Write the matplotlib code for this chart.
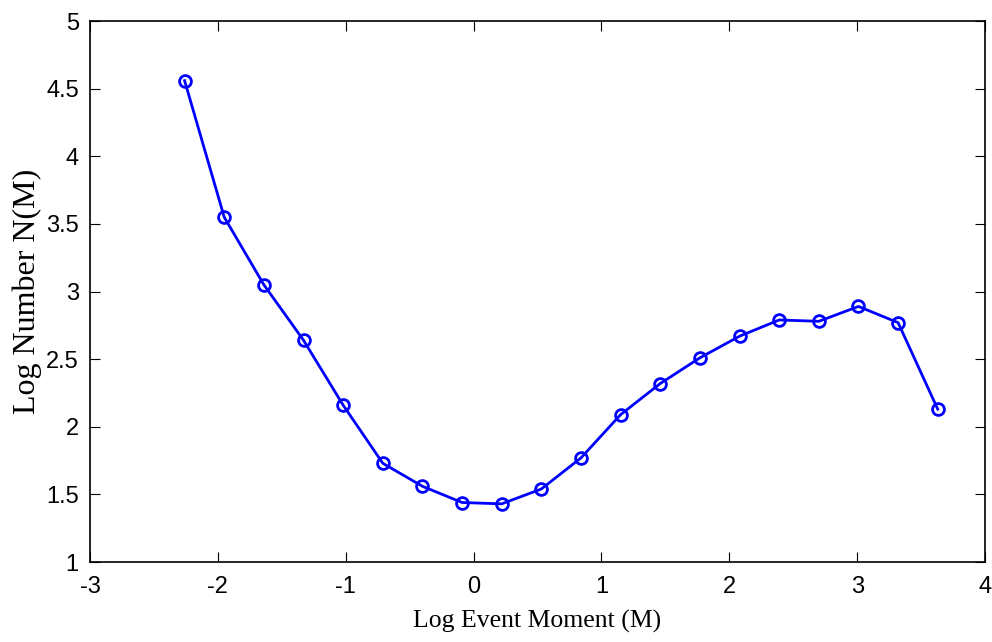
import matplotlib
matplotlib.use("Agg")
import matplotlib.pyplot as plt

plt.rcParams["axes.unicode_minus"] = False  # plain "-" like the original

log_moment = [-2.26, -1.95, -1.64, -1.33, -1.02, -0.71, -0.40, -0.09, 0.22, 0.53,
              0.84, 1.15, 1.46, 1.77, 2.08, 2.39, 2.70, 3.01, 3.32, 3.63]
log_number = [4.56, 3.55, 3.05, 2.64, 2.16, 1.73, 1.56, 1.44, 1.43, 1.54,
              1.77, 2.09, 2.32, 2.51, 2.67, 2.79, 2.78, 2.89, 2.77, 2.13]

xticks = [-3, -2, -1, 0, 1, 2, 3, 4]
yticks = [1, 1.5, 2, 2.5, 3, 3.5, 4, 4.5, 5]
ytick_labels = ["1", "1.5", "2", "2.5", "3", "3.5", "4", "4.5", "5"]

fig = plt.figure(figsize=(9.92, 6.42), dpi=100)
ax = fig.add_axes([0.0907, 0.1246, 0.9023, 0.8425])

ax.plot(log_moment, log_number, color="blue", linewidth=2.0, marker="o",
        markersize=8.5, markerfacecolor="none", markeredgecolor="blue",
        markeredgewidth=2.0)

ax.set_xlim(-3, 4)
ax.set_ylim(1, 5)
ax.set_xticks(xticks)
ax.set_yticks(yticks)
ax.set_yticklabels(ytick_labels)
ax.tick_params(direction="in", top=True, right=True, length=7, width=0.8,
               labelsize=17)
ax.tick_params(axis="x", pad=10)
ax.tick_params(axis="y", pad=8)
for lab in ax.get_xticklabels() + ax.get_yticklabels():
    lab.set_family("Liberation Sans")
for sp in ax.spines.values():
    sp.set_linewidth(1.2)

ax.set_xlabel("Log Event Moment (M)", family="Liberation Serif", fontsize=18.5,
              labelpad=9)
ax.set_ylabel("Log Number N(M)", family="Liberation Serif", fontsize=23,
              labelpad=3)

fig.savefig("out.png", dpi=100)
plt.close(fig)
